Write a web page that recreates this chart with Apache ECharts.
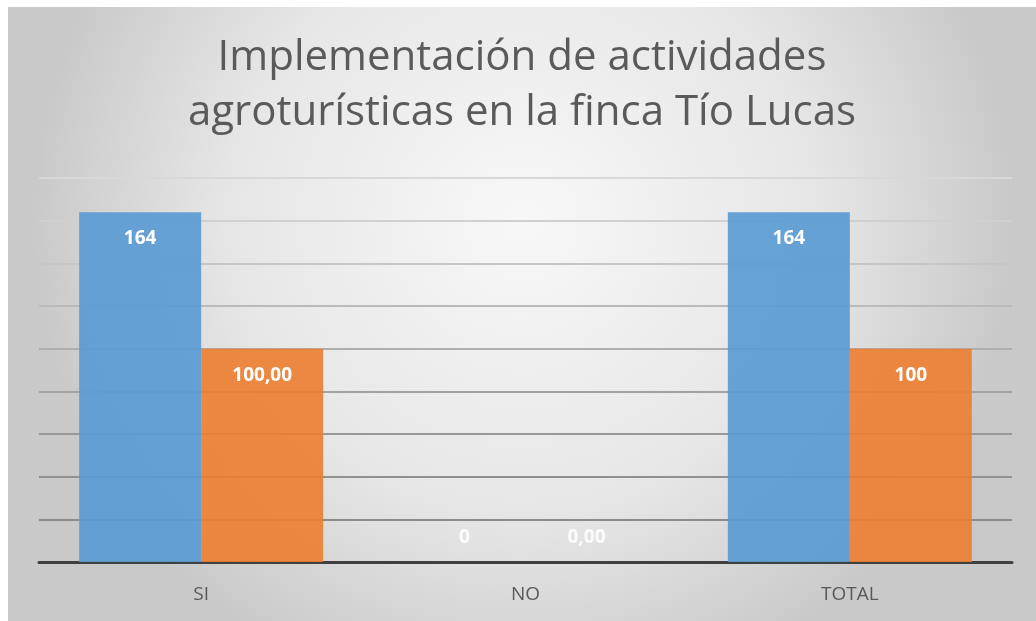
<!DOCTYPE html>
<html>
<head>
<meta charset="utf-8">
<script src="https://cdn.jsdelivr.net/npm/echarts@6/dist/echarts.min.js"></script>
<style>
  html, body { margin: 0; padding: 0; background: #ffffff; }
  #chart { position: absolute; left: 8px; top: 7px; width: 1028px; height: 614px; }
</style>
</head>
<body>
<div id="chart"></div>
<script>
var categories = ['SI', 'NO', 'TOTAL'];
var countValues = [164, 0, 164];
var percentValues = [100, 0, 100];
var percentLabels = ['100,00', '0,00', '100'];
var countLabels = ['164', '0', '164'];

var chart = echarts.init(document.getElementById('chart'));

function toData(values) {
    return values.map(function (v) {
        if (v === 0) {
            return { value: v, label: { position: 'top', distance: 15, color: 'rgba(255,255,255,0.85)' } };
        }
        return v;
    });
}

var labelStyle = {
    show: true,
    position: 'insideTop',
    distance: 17,
    color: '#ffffff',
    fontFamily: 'Open Sans',
    fontWeight: 'bold',
    fontSize: 19
};

var option = {
    backgroundColor: {
        type: 'radial', x: 0.5, y: 0.35, r: 0.8,
        colorStops: [
            { offset: 0, color: '#f8f8f8' },
            { offset: 0.6, color: '#e6e6e6' },
            { offset: 1, color: '#c9c9c9' }
        ]
    },
    title: {
        text: 'Implementación de actividades\nagroturísticas en la finca Tío Lucas',
        left: 'center',
        top: 19,
        textStyle: {
            fontFamily: 'Open Sans',
            fontWeight: 'normal',
            fontSize: 42,
            lineHeight: 55,
            color: '#5a5a5a'
        }
    },
    grid: { left: 31, right: 24, top: 171, bottom: 59 },
    xAxis: {
        type: 'category',
        data: categories,
        axisLine: { lineStyle: { color: '#404040', width: 3 } },
        axisTick: { show: false },
        axisLabel: { color: '#595959', fontFamily: 'Open Sans', fontSize: 19, margin: 23 }
    },
    yAxis: {
        type: 'value',
        min: 0,
        max: 180,
        interval: 20,
        axisLabel: { show: false },
        axisLine: { show: false },
        axisTick: { show: false },
        splitLine: {
            lineStyle: {
                width: 2,
                color: ['#404040', '#8a8a8a', '#919191', '#989898', '#a2a2a2', '#aeaeae', '#bababa', '#c6c6c6', '#d0d0d0', '#d8d8d8']
            }
        }
    },
    series: [
        {
            type: 'bar',
            data: toData(countValues),
            barWidth: 122,
            barGap: '0%',
            itemStyle: { color: 'rgba(91,155,213,0.92)' },
            label: Object.assign({}, labelStyle, {
                formatter: function (p) { return countLabels[p.dataIndex]; }
            })
        },
        {
            type: 'bar',
            data: toData(percentValues),
            barWidth: 122,
            barGap: '0%',
            itemStyle: { color: 'rgba(237,125,49,0.9)' },
            label: Object.assign({}, labelStyle, {
                formatter: function (p) { return percentLabels[p.dataIndex]; }
            })
        }
    ]
};

chart.setOption(option);
</script>
</body>
</html>
